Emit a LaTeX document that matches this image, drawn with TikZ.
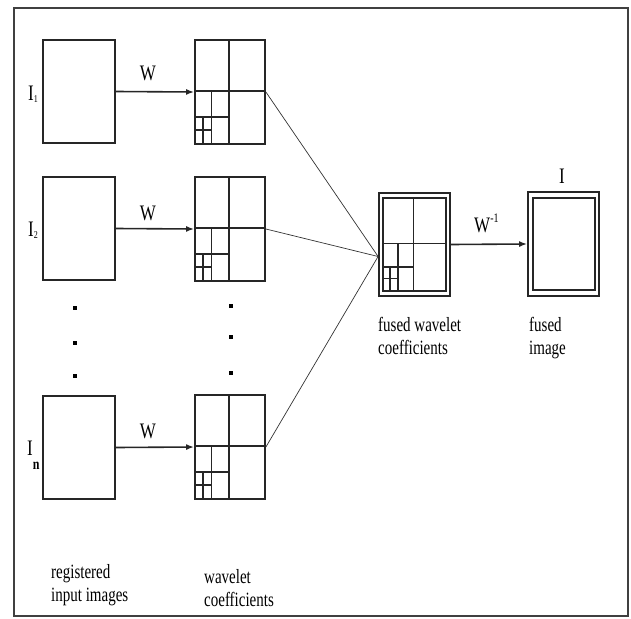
\documentclass[tikz,border=0pt]{standalone}
\usepackage{fontspec}
\setmainfont{Liberation Serif}
\usetikzlibrary{arrows.meta, calc}

\tikzset{
  imgbox/.style={draw=black!85, line width=1.8pt, minimum width=72pt, minimum height=103pt, inner sep=0pt},
  coefbox/.style={imgbox, minimum width=70pt, minimum height=104pt},
  lbl/.style={font=\fontsize{15}{17}\selectfont, align=left, yscale=1.35, inner sep=0pt},
  op/.style={font=\fontsize{17}{17}\selectfont, yscale=1.3, inner sep=0pt},
  flow/.style={-{Latex[length=8pt,width=6pt]}, line width=1.6pt, draw=black!85},
  link/.style={line width=0.7pt, draw=black!80},
}

% dyadic split of a box, lower left quarter split twice
\newcommand{\dwtgrid}[3]{%
  \begin{scope}[shift={(#1.north west)}, x=#2, y=-#3, line width=1.4pt, black!85]
    \draw (0.5,0) -- (0.5,1) (0,0.5) -- (1,0.5);
    \draw (0.25,0.5) -- (0.25,1) (0,0.75) -- (0.5,0.75);
    \draw (0.125,0.75) -- (0.125,1) (0,0.875) -- (0.25,0.875);
  \end{scope}}

\begin{document}
\begin{tikzpicture}[x=1pt, y=-1pt]
  \useasboundingbox (0,0) rectangle (631,618);
  \draw[line width=2pt, black!75] (14,8) rectangle (628,616);

  % input images
  \node[imgbox] (in1) at (79,91.5) {};
  \node[imgbox] (in2) at (79,228.5) {};
  \node[imgbox] (inn) at (79,447.5) {};

  % wavelet coefficients
  \node[coefbox] (wav1) at (230,92) {};
  \node[coefbox] (wav2) at (230,229) {};
  \node[coefbox] (wavn) at (230,447) {};
  \dwtgrid{wav1}{70pt}{104pt}
  \dwtgrid{wav2}{70pt}{104pt}
  \dwtgrid{wavn}{70pt}{104pt}

  % fused coefficients and fused image
  \node[imgbox, minimum width=71pt, minimum height=103pt] (fwout) at (414.5,244.5) {};
  \node[imgbox, minimum width=63pt, minimum height=93pt] (fwin) at (414.5,244.5) {};
  \dwtgrid{fwin}{63pt}{93pt}
  \node[imgbox, minimum width=71pt, minimum height=104pt] (fimg) at (563.5,244) {};
  \node[imgbox, minimum width=62pt, minimum height=92pt] (fimgin) at (564,244) {};

  \coordinate (merge) at ($(fwout.west)+(0,12)$);

  \draw[flow] (in1.east) -- (wav1.west);
  \draw[flow] (in2.east) -- (wav2.west);
  \draw[flow] (inn.east) -- (wavn.west);
  \draw[flow] (fwout.east) -- (fimg.west);
  \draw[link] (wav1.east) -- (merge);
  \draw[link] (wav2.east) -- (merge);
  \draw[link] (wavn.east) -- (merge);

  \node[op, anchor=base] (w1) at (148,80) {W};
  \node[op, anchor=base] (w2) at (148,220) {W};
  \node[op, anchor=base] (wn) at (148,438) {W};
  \node[op, anchor=base west] (winv) at (474,232) {W\raisebox{7pt}{\fontsize{10}{10}\selectfont -1}};
  \node[op, anchor=base] (lfi) at (562,183) {I};

  \node[op, anchor=base] (l1) at (33,100) {I\raisebox{-2pt}{\fontsize{8}{8}\selectfont 1}};
  \node[op, anchor=base] (l2) at (33,236) {I\raisebox{-2pt}{\fontsize{8}{8}\selectfont 2}};
  \node[op, anchor=base west, fill=white, inner xsep=1pt] (ln) at (26,455)
    {I\raisebox{-11pt}{\fontsize{12}{12}\selectfont\bfseries n}};

  % dots
  \foreach \y in {310,345,378} \fill (73,\y) rectangle ++(4,-4);
  \foreach \y in {308,339,375} \fill (229,\y) rectangle ++(4,-4);

  \node[lbl, anchor=north west] (lreg) at (51,564) {registered\\input images};
  \node[lbl, anchor=north west] (lwav) at (204,569) {wavelet\\coefficients};
  \node[lbl, anchor=north west] (lfw) at (378,317) {fused wavelet\\coefficients};
  \node[lbl, anchor=north west] (lfim) at (529,317) {fused\\image};
\end{tikzpicture}
\end{document}
